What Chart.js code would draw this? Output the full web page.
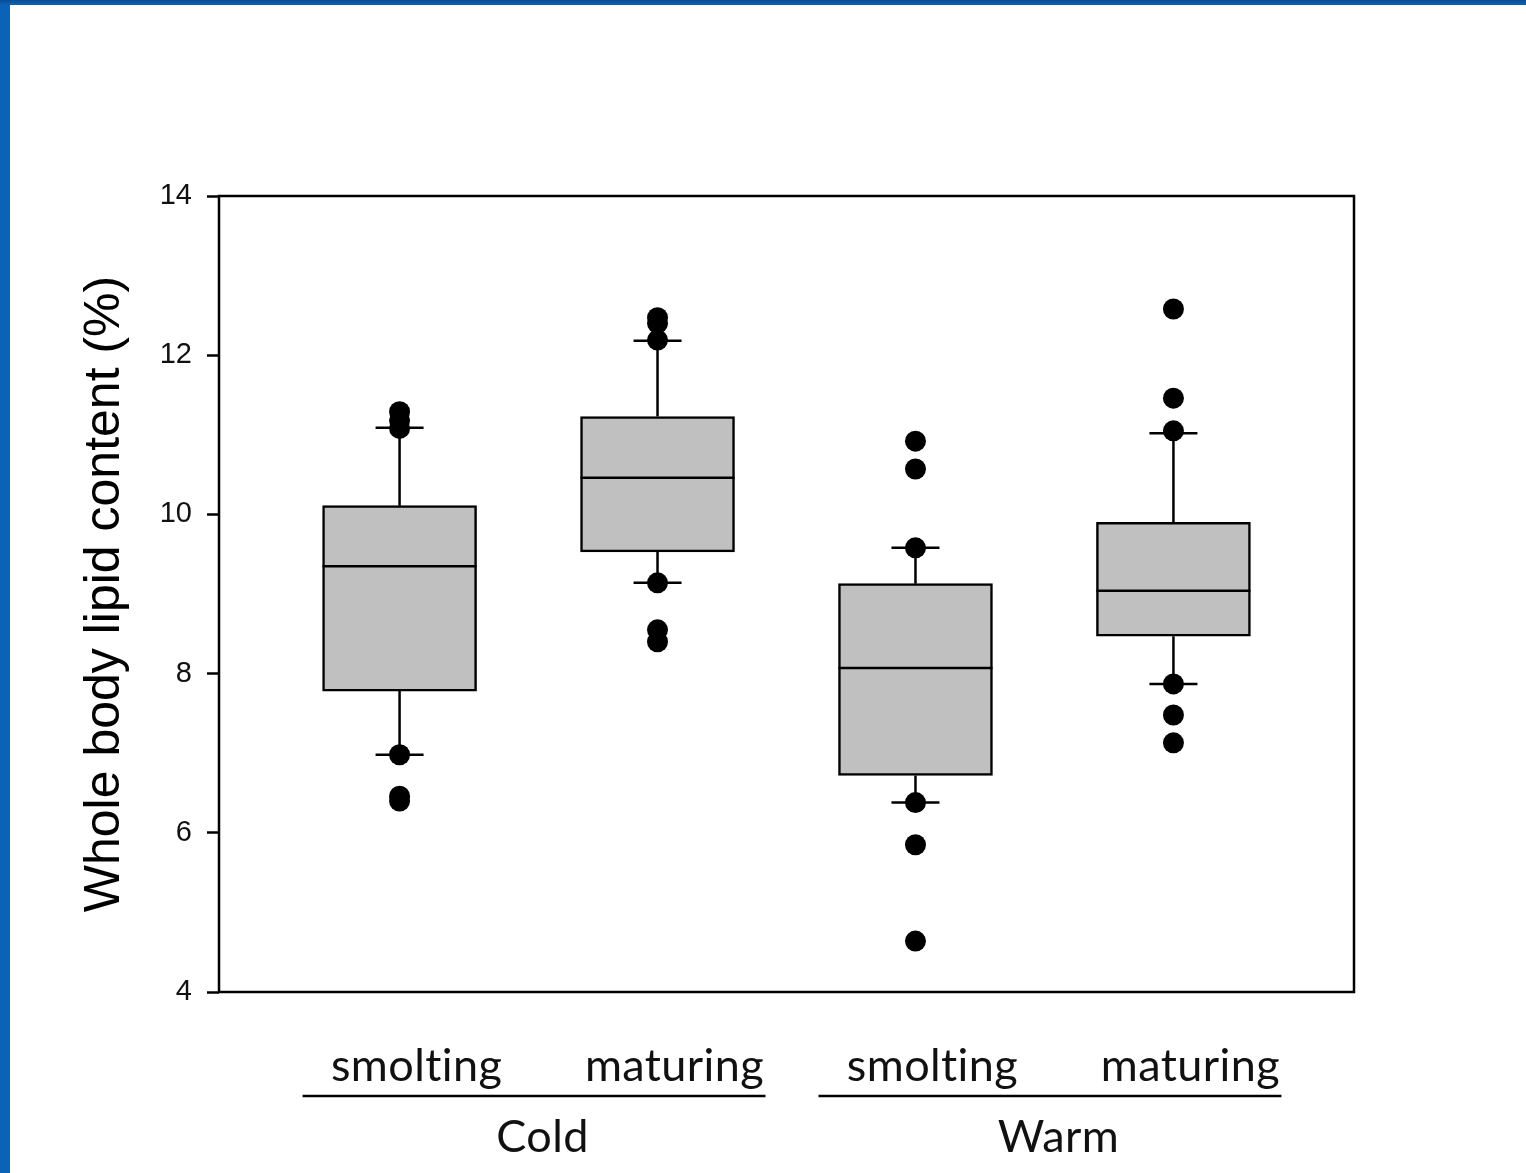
<!DOCTYPE html>
<html>
<head>
<meta charset="utf-8">
<title>Whole body lipid content</title>
<script src="https://cdn.jsdelivr.net/npm/chart.js@4.4.1/dist/chart.umd.min.js"></script>
<style>
  html, body { margin: 0; padding: 0; background: #ffffff; }
  #wrap { position: relative; width: 1526px; height: 1173px; overflow: hidden; background: #ffffff; }
  #edgeLeft { position: absolute; left: 0; top: 0; width: 10px; height: 1173px; background: #0b63b8; }
  #edgeTop { position: absolute; left: 0; top: 0; width: 1526px; height: 5px; background: linear-gradient(#0a4c93, #0b63b8); }
  canvas { display: block; }
</style>
</head>
<body>
<div id="wrap">
  <canvas id="chart" width="1526" height="1173"></canvas>
  <div id="edgeLeft"></div>
  <div id="edgeTop"></div>
</div>
<script>
// Box plot data: one entry per group (Cold smolting, Cold maturing, Warm smolting, Warm maturing)
const categories = ['smolting', 'maturing', 'smolting', 'maturing'];
const groupNames = ['Cold', 'Warm'];
const groupOf = [0, 0, 1, 1];

const q1 = [7.78, 9.53, 6.72, 8.47];
const medians = [9.35, 10.46, 8.07, 9.04];
const q3 = [10.11, 11.23, 9.13, 9.90];
const whiskerLow = [6.98, 9.14, 6.38, 7.87];
const whiskerHigh = [11.09, 12.18, 9.58, 11.02];

// Individual points plotted beyond (and at) the whisker ends
const outliers = [
  [11.29, 11.18, 11.08, 6.98, 6.46, 6.40],
  [12.47, 12.40, 12.19, 9.14, 8.55, 8.40],
  [10.92, 10.57, 9.58, 6.38, 5.85, 4.64],
  [12.58, 11.46, 11.05, 7.87, 7.48, 7.13]
];

const yTicks = [4, 6, 8, 10, 12, 14];
const yTitle = 'Whole body lipid content (%)';

const positions = categories.map((_, i) => i + 1);

const boxData = positions.map((x, i) => ({ x: x, y: [q1[i], q3[i]] }));
const pointData = [];
outliers.forEach((list, i) => list.forEach(v => pointData.push({ x: positions[i], y: v })));

const LINE_W = 2.5;

// Draws whiskers, caps and median lines on top of the boxes
const boxExtras = {
  id: 'boxExtras',
  afterDatasetDraw(chart, args) {
    if (args.index !== 1) return;
    const ctx = chart.ctx;
    const xs = chart.scales.x, ys = chart.scales.y;
    const bars = chart.getDatasetMeta(1).data;
    const capHalf = 24;
    ctx.save();
    ctx.strokeStyle = '#000';
    ctx.lineWidth = LINE_W;
    positions.forEach((p, i) => {
      const x = xs.getPixelForValue(p);
      const yQ1 = ys.getPixelForValue(q1[i]);
      const yQ3 = ys.getPixelForValue(q3[i]);
      const yLo = ys.getPixelForValue(whiskerLow[i]);
      const yHi = ys.getPixelForValue(whiskerHigh[i]);
      const yMed = ys.getPixelForValue(medians[i]);
      const half = bars[i].width / 2;
      ctx.beginPath();
      ctx.moveTo(x, yQ3); ctx.lineTo(x, yHi);
      ctx.moveTo(x - capHalf, yHi); ctx.lineTo(x + capHalf, yHi);
      ctx.moveTo(x, yQ1); ctx.lineTo(x, yLo);
      ctx.moveTo(x - capHalf, yLo); ctx.lineTo(x + capHalf, yLo);
      ctx.moveTo(x - half, yMed); ctx.lineTo(x + half, yMed);
      ctx.stroke();
    });
    ctx.restore();
  },
  afterDatasetsDraw(chart) {
    const ctx = chart.ctx;
    const a = chart.chartArea;
    ctx.save();
    ctx.strokeStyle = '#000';
    ctx.lineWidth = LINE_W;
    ctx.strokeRect(a.left, a.top, a.right - a.left, a.bottom - a.top);
    ctx.restore();
  },
  afterDraw(chart) {
    const ctx = chart.ctx;
    const xs = chart.scales.x;
    const bottom = chart.chartArea.bottom;
    ctx.save();
    ctx.fillStyle = '#111';
    ctx.textAlign = 'center';
    ctx.textBaseline = 'middle';
    ctx.font = '45px Lato, "Open Sans", sans-serif';
    ctx.textRendering = 'optimizeSpeed';
    ctx.letterSpacing = '0.4px';
    categories.forEach((c, i) => {
      ctx.fillText(c, xs.getPixelForValue(positions[i]) + 17, bottom + 74);
    });
    ctx.strokeStyle = '#000';
    ctx.lineWidth = LINE_W;
    groupNames.forEach((g, gi) => {
      const members = positions.filter((_, i) => groupOf[i] === gi);
      const x0 = xs.getPixelForValue(members[0]);
      const x1 = xs.getPixelForValue(members[members.length - 1]);
      ctx.beginPath();
      ctx.moveTo(x0 - 97, bottom + 104);
      ctx.lineTo(x1 + 108, bottom + 104);
      ctx.stroke();
      ctx.fillText(g, (x0 + x1) / 2 + 14, bottom + 145);
    });
    ctx.restore();
  }
};

new Chart(document.getElementById('chart'), {
  type: 'bar',
  data: {
    datasets: [
      {
        type: 'scatter',
        data: pointData,
        backgroundColor: '#000',
        borderWidth: 0,
        pointRadius: 10.5,
        pointHoverRadius: 10.5
      },
      {
        type: 'bar',
        data: boxData,
        backgroundColor: '#c0c0c0',
        borderColor: '#000',
        borderWidth: LINE_W,
        borderSkipped: false,
        barThickness: 154
      }
    ]
  },
  options: {
    responsive: false,
    animation: false,
    events: [],
    layout: { padding: { left: 70, top: 196, right: 172, bottom: 0 } },
    plugins: { legend: { display: false }, tooltip: { enabled: false } },
    scales: {
      x: {
        type: 'linear',
        offset: false,
        min: 0.3,
        max: 4.7,
        ticks: { display: false },
        grid: { display: false, offset: false },
        border: { display: false },
        afterFit(s) { s.height = 181; }
      },
      y: {
        type: 'linear',
        min: 4,
        max: 14,
        afterBuildTicks(s) { s.ticks = yTicks.map(v => ({ value: v })); },
        ticks: {
          color: '#111',
          padding: 15,
          font: { family: '"Liberation Sans", Arial, sans-serif', size: 29 }
        },
        grid: {
          drawOnChartArea: false,
          drawTicks: true,
          tickLength: 12,
          tickWidth: LINE_W,
          tickColor: '#000'
        },
        border: { display: false },
        title: {
          display: true,
          text: yTitle,
          color: '#000',
          padding: { top: 5, bottom: 0 },
          font: { family: '"Liberation Sans", Arial, sans-serif', size: 50, weight: 'normal' }
        },
        afterFit(s) { s.width = 149; }
      }
    }
  },
  plugins: [boxExtras]
});
</script>
</body>
</html>
